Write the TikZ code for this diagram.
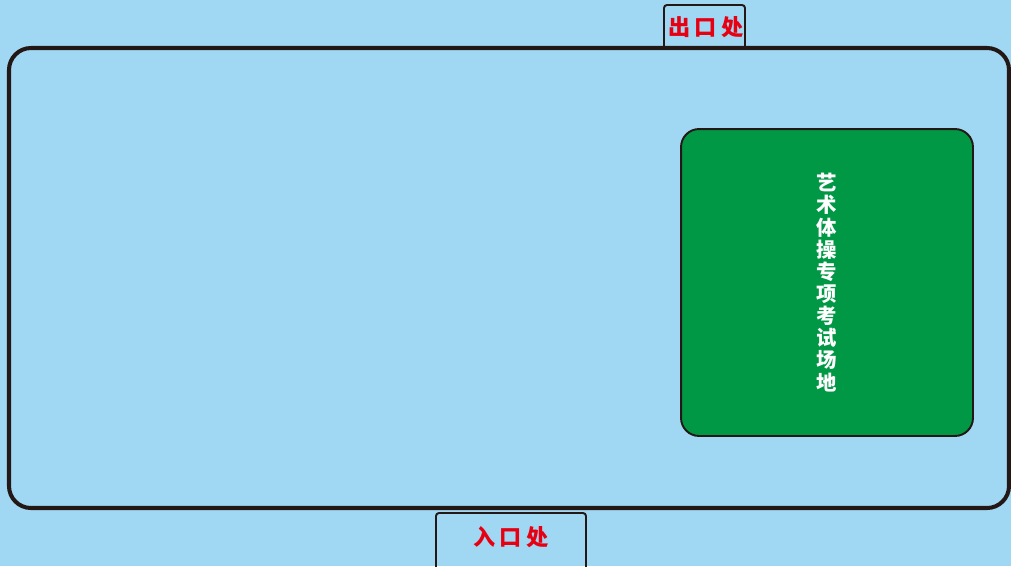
\documentclass[tikz,border=0pt]{standalone}
\usepackage{fontspec}
\newfontfamily\cjk{Noto Sans CJK SC}
\definecolor{hallblue}{RGB}{160,216,244}
\definecolor{fieldgreen}{RGB}{0,152,68}
\definecolor{signred}{RGB}{230,0,18}
\definecolor{edge}{RGB}{35,24,21}
\tikzset{
  doorlabel/.style={text=signred, font=\cjk\bfseries\fontsize{12.6}{14}\selectfont, inner sep=0pt},
  fieldbox/.style={draw=edge, line width=1.1pt, fill=fieldgreen, rounded corners=0.36cm,
    minimum width=5.84cm, minimum height=6.14cm, align=center, text=white,
    font=\cjk\bfseries\fontsize{11.6}{12.6}\selectfont}
}
\begin{document}
\begin{tikzpicture}[x=0.02cm, y=-0.02cm]
  \fill[hallblue] (0,0) rectangle (1011,566);
  \clip (0,0) rectangle (1011,566);
  \draw[edge, line width=1.1pt, rounded corners=0.06cm] (664,48) -- (664,5) -- (745,5) -- (745,48);
  \draw[edge, line width=1.1pt, rounded corners=0.06cm] (436,580) -- (436,513) -- (586,513) -- (586,580);
  \draw[edge, line width=2.3pt, rounded corners=0.44cm] (9,48) rectangle (1009,508);
  \node[doorlabel] (exit) at (706,27) {出\hspace{2.3pt}口\hspace{2.3pt}处};
  \node[doorlabel] (entrance) at (511,537) {入\hspace{2.3pt}口\hspace{2.3pt}处};
  \node[fieldbox] (venue) at (827,282.5) {艺\\术\\体\\操\\专\\项\\考\\试\\场\\地};
\end{tikzpicture}
\end{document}
